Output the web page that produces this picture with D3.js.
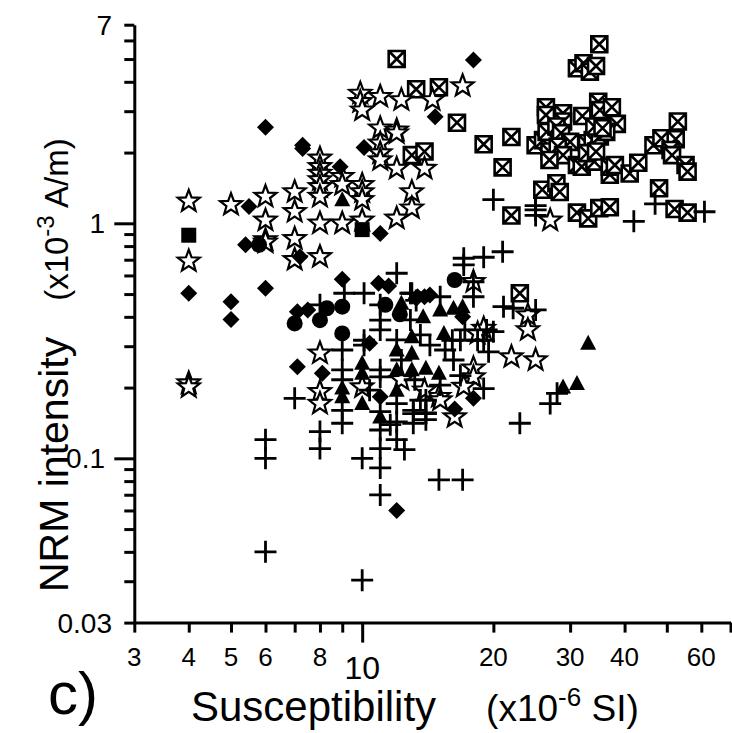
<!DOCTYPE html>
<html>
<head>
<meta charset="utf-8">
<script src="https://cdn.jsdelivr.net/npm/d3@7"></script>
<style>
  body { margin: 0; background: #fff; }
  text { font-family: "Liberation Sans", Arial, sans-serif; fill: #000; }
</style>
</head>
<body>
<svg></svg>
<script>
const width = 732
const height = 733
const svg = d3.select('svg')
  .attr('width', width)
  .attr('height', height)

// [susceptibility (x10^-6 SI), NRM intensity (x10^-3 A/m)]
var crossedSquares = [
  [12.0,5.0],[13.3,3.72],[13.0,1.95],[13.9,2.02],[15.0,3.79],[16.5,2.68],[19.0,2.17],[22.0,2.33],
  [21.0,1.73],[35.0,5.78],[31.1,4.57],[32.2,4.80],[33.3,4.42],[34.4,4.67],[26.4,3.12],[26.4,2.89],
  [28.9,2.94],[28.9,2.71],[32.0,2.86],[34.8,3.29],[35.1,3.03],[37.4,3.12],[38.4,2.65],[25.0,2.15],
  [26.0,2.26],[26.5,2.45],[27.9,2.58],[28.6,2.42],[30.0,2.22],[26.9,2.02],[28.1,2.12],[28.9,1.95],
  [26.9,1.86],[31.1,1.77],[31.9,1.74],[34.1,1.83],[32.8,2.19],[33.8,2.26],[35.1,2.34],[36.3,2.45],
  [34.1,2.58],[35.6,2.54],[32.8,1.99],[34.4,2.02],[37.0,1.61],[37.0,1.74],[38.0,1.77],[41.1,1.63],
  [43.0,1.81],[46.6,2.15],[48.6,2.30],[52.4,2.28],[51.0,2.05],[51.4,1.95],[53.0,2.71],[55.2,1.77],
  [55.8,1.66],[25.9,1.39],[27.9,1.48],[28.4,1.36],[48.0,1.41],[22.0,1.08],[31.1,1.11],[33.0,1.05],
  [35.0,1.16],[37.0,1.17],[52.1,1.15],[55.8,1.11],[23.0,0.504]
]
var openStars = [
  [9.9,3.57],[9.9,3.29],[10.0,3.03],[11.0,3.46],[12.3,3.35],[14.5,3.35],[17.0,3.84],[11.0,2.54],
  [11.0,2.19],[11.0,1.99],[11.0,1.86],[12.0,2.49],[12.0,2.42],[12.0,1.71],[13.9,1.71],[8.0,1.89],
  [8.0,1.74],[8.0,1.63],[8.0,1.53],[8.0,1.43],[8.0,1.30],[9.0,1.58],[9.0,1.46],[10.0,1.46],
  [10.0,1.36],[10.0,1.26],[13.0,1.36],[13.0,1.16],[12.0,1.05],[7.0,1.36],[7.0,1.12],[7.0,0.86],
  [6.0,1.30],[6.0,1.03],[6.0,0.85],[5.0,1.20],[4.0,1.24],[8.0,1.0],[9.0,1.0],[10.0,1.03],
  [6.0,0.83],[7.0,0.70],[8.0,0.72],[4.0,0.69],[4.0,0.209],[4.0,0.201],[8.0,0.28],[8.0,0.192],
  [8.0,0.171],[10.0,0.201],[27.0,1.03],[18.0,0.564],[24.0,0.407],[24.0,0.352],[19.0,0.357],[18.4,0.34],
  [22.0,0.27],[25.0,0.262],[18.0,0.242],[18.0,0.222],[17.1,0.202],[15.0,0.183],[16.3,0.150],[13.9,0.195],
  [15.1,0.177],[12.3,0.216]
]
var diamonds = [
  [6.0,2.56],[7.3,2.15],[7.3,2.08],[10.1,2.10],[8.9,1.74],[5.5,1.18],[11.0,0.906],[18.0,4.95],
  [14.7,2.84],[5.4,0.81],[4.0,0.504],[5.0,0.464],[5.0,0.39],[6.0,0.529],[9.0,0.578],[7.1,0.42],
  [7.5,0.428],[10.9,0.556],[11.5,0.541],[13.3,0.48],[13.9,0.487],[7.2,0.72],[7.1,0.245],[8.1,0.23],
  [10.4,0.309],[11.0,0.183],[13.4,0.487],[14.3,0.495],[18.0,0.18],[16.3,0.162],[12.0,0.060],[17.0,0.40]
]
var filledSquares = [[4.0,0.89],[10.0,0.94]]
var circles = [
  [5.8,0.81],[7.0,0.375],[8.0,0.387],[8.3,0.435],[9.0,0.442],[9.0,0.34],[16.3,0.574],[11.3,0.45],[12.2,0.41]
]
var triangles = [
  [9.0,1.26],[33.0,0.309],[28.9,0.201],[31.1,0.208],[9.0,0.199],[9.0,0.183],[10.0,0.254],[10.0,0.23],
  [10.0,0.171],[11.0,0.150],[12.0,0.289],[12.0,0.238],[12.0,0.195],[13.0,0.329],[13.0,0.28],[12.3,0.457],
  [16.2,0.435],[17.0,0.442],[15.1,0.428],[13.8,0.40],[14.0,0.242],[15.0,0.23],[13.0,0.238],[15.4,0.34]
]
var pluses = [
  [20.0,1.26],[25.0,1.19],[25.0,1.14],[25.0,1.08],[42.0,1.02],[47.0,1.21],[61.0,1.12],
  [17.1,0.71],[17.1,0.665],[19.0,0.717],[21.0,0.757],[18.0,0.564],[18.0,0.487],[15.1,0.487],[13.0,0.504],
  [21.1,0.442],[22.2,0.435],[25.0,0.428],[19.3,0.352],[20.0,0.346],[19.5,0.284],[19.0,0.318],[18.4,0.318],
  [16.8,0.318],[16.1,0.318],[19.0,0.198],[27.0,0.171],[28.0,0.189],[23.0,0.141],[14.0,0.177],[14.0,0.156],
  [13.1,0.16],[14.0,0.146],[13.1,0.141],[12.0,0.613],[9.1,0.504],[10.1,0.504],[8.0,0.45],[11.0,0.45],
  [11.0,0.387],[11.0,0.352],[12.9,0.504],[13.3,0.47],[10.1,0.318],[10.1,0.303],[9.0,0.289],[9.0,0.238],
  [9.0,0.216],[9.0,0.16],[9.0,0.141],[11.0,0.238],[11.0,0.222],[11.0,0.158],[11.0,0.132],[11.0,0.11],
  [11.0,0.091],[11.0,0.0699],[12.0,0.171],[12.0,0.143],[12.0,0.12],[13.1,0.155],[14.0,0.155],[7.0,0.18],
  [8.0,0.13],[8.0,0.11],[6.0,0.12],[6.0,0.10],[10.0,0.10],[6.0,0.040],[10.0,0.0303],[15.0,0.081],
  [17.0,0.081],[12.0,0.319],[12.9,0.388],[13.6,0.335],[14.3,0.303],[15.5,0.289],[16.2,0.262],[17.2,0.352],
  [12.3,0.262],[13.2,0.216],[15.1,0.205],[16.8,0.225],[13.6,0.177],[10.4,0.195],[11.6,0.139],[12.5,0.109]
]

var xMinorTicks = [3,4,5,6,7,8,9,20,30,40,50,60,70]
var xMajorTicks = [10]
var xMinorLabels = {3:"3",4:"4",5:"5",6:"6",8:"8",20:"20",30:"30",40:"40",60:"60"}
var yMinorTicks = [0.02,0.03,0.04,0.05,0.06,0.07,0.08,0.09,0.2,0.3,0.4,0.5,0.6,0.7,0.8,0.9,2,3,4,5,6,7]
var yMajorTicks = [0.1,1]
// the bottom tick carries the label "0.03" in the original figure
var yTickLabels = {0.02:"0.03",0.1:"0.1",1:"1",7:"7"}

var x = d3.scaleLog().domain([3, 70]).range([134.3, 730.5])
var y = d3.scaleLog().domain([0.02, 7]).range([622.6, 24.7])

function axisStyle(g) {
  g.select(".domain").attr("stroke-width", 3)
  g.selectAll(".tick line").attr("stroke-width", 3)
}

// y axis
svg.append("g").attr("transform", "translate(134.3,0)")
  .call(d3.axisLeft(y).tickValues(yMinorTicks).tickSize(10).tickSizeOuter(0).tickFormat(""))
  .call(axisStyle)
svg.append("g").attr("transform", "translate(134.3,0)")
  .call(d3.axisLeft(y).tickValues(yMajorTicks).tickSize(20).tickSizeOuter(0).tickFormat(""))
  .call(g => g.select(".domain").remove())
  .call(axisStyle)

svg.append("g").selectAll("text")
  .data(Object.keys(yTickLabels).map(Number))
  .enter().append("text")
  .attr("x", d => yMajorTicks.includes(d) ? 105 : 112)
  .attr("y", d => y(d))
  .attr("dy", "0.36em")
  .attr("text-anchor", "end")
  .style("font-size", "28px")
  .text(d => yTickLabels[d])

// x axis
svg.append("g").attr("transform", "translate(0,622.6)")
  .call(d3.axisBottom(x).tickValues(xMinorTicks).tickSize(10).tickSizeOuter(0).tickFormat(""))
  .call(axisStyle)
svg.append("g").attr("transform", "translate(0,622.6)")
  .call(d3.axisBottom(x).tickValues(xMajorTicks).tickSize(20).tickSizeOuter(0).tickFormat(""))
  .call(g => g.select(".domain").remove())
  .call(axisStyle)

svg.append("g").selectAll("text")
  .data(Object.keys(xMinorLabels).map(Number))
  .enter().append("text")
  .attr("x", d => x(d))
  .attr("y", 666)
  .attr("text-anchor", "middle")
  .style("font-size", "26px")
  .text(d => xMinorLabels[d])

svg.append("text")
  .attr("x", x(10)).attr("y", 679)
  .attr("text-anchor", "middle")
  .style("font-size", "32px")
  .text("10")

// axis titles
var xt = svg.append("text").attr("x", 191).attr("y", 721)
xt.append("tspan").style("font-size", "42px").text("Susceptibility")
xt.append("tspan").attr("dx", 50).style("font-size", "37px").text("(x10")
xt.append("tspan").attr("dy", -15).style("font-size", "26px").text("-6")
xt.append("tspan").attr("dy", 15).style("font-size", "37px").text(" SI)")

var yt = svg.append("text").attr("transform", "translate(68,592) rotate(-90)")
yt.append("tspan").style("font-size", "41px").text("NRM intensity")
yt.append("tspan").attr("dx", 36).style("font-size", "33px").text("(x10")
yt.append("tspan").attr("dy", -14).style("font-size", "24px").text("-3")
yt.append("tspan").attr("dy", 14).style("font-size", "33px").text(" A/m)")

svg.append("text").attr("x", 48).attr("y", 714)
  .style("font-size", "60px").text("c)")

// markers
function starPath(r1, r2) {
  var p = []
  for (var i = 0; i < 10; i++) {
    var a = -Math.PI / 2 + i * Math.PI / 5
    var r = i % 2 ? r2 : r1
    p.push([r * Math.cos(a), r * Math.sin(a)])
  }
  return "M" + p.join("L") + "Z"
}

var plot = svg.append("g")

plot.append("g").selectAll("path")
  .data(crossedSquares).enter().append("path")
  .attr("transform", d => "translate(" + x(d[0]) + "," + y(d[1]) + ")")
  .attr("d", "M-8,-8H8V8H-8ZM-8,-8L8,8M8,-8L-8,8")
  .attr("fill", "#fff").attr("stroke", "#000").attr("stroke-width", 2.6)

plot.append("g").selectAll("path")
  .data(openStars).enter().append("path")
  .attr("transform", d => "translate(" + x(d[0]) + "," + y(d[1]) + ")")
  .attr("d", starPath(11.5, 4.8))
  .attr("fill", "#fff").attr("stroke", "#000").attr("stroke-width", 2.2)
  .attr("stroke-linejoin", "miter")

plot.append("g").selectAll("path")
  .data(diamonds).enter().append("path")
  .attr("transform", d => "translate(" + x(d[0]) + "," + y(d[1]) + ")")
  .attr("d", "M0,-8.5L8.5,0L0,8.5L-8.5,0Z")
  .attr("fill", "#000")

plot.append("g").selectAll("path")
  .data(filledSquares).enter().append("path")
  .attr("transform", d => "translate(" + x(d[0]) + "," + y(d[1]) + ")")
  .attr("d", d3.symbol(d3.symbolSquare, 225))
  .attr("fill", "#000")

plot.append("g").selectAll("circle")
  .data(circles).enter().append("circle")
  .attr("cx", d => x(d[0])).attr("cy", d => y(d[1]))
  .attr("r", 8).attr("fill", "#000")

plot.append("g").selectAll("path")
  .data(triangles).enter().append("path")
  .attr("transform", d => "translate(" + x(d[0]) + "," + y(d[1]) + ")")
  .attr("d", "M0,-8.5L8,6.5L-8,6.5Z")
  .attr("fill", "#000")

plot.append("g").selectAll("path")
  .data(pluses).enter().append("path")
  .attr("transform", d => "translate(" + x(d[0]) + "," + y(d[1]) + ")")
  .attr("d", "M-11,0H11M0,-11V11")
  .attr("stroke", "#000").attr("stroke-width", 2.8)
</script>
</body>
</html>
